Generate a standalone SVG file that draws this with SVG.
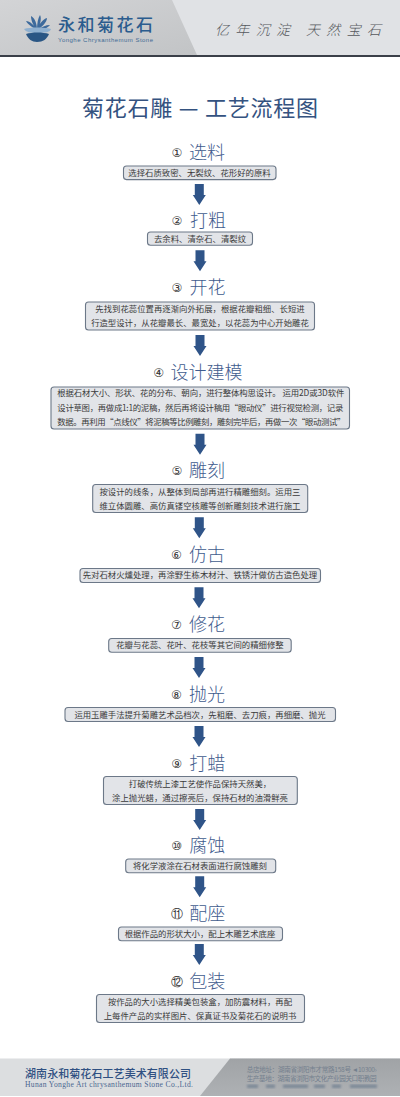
<svg xmlns="http://www.w3.org/2000/svg" width="400" height="1097" viewBox="0 0 400 1097">
<style>
text{font-family:"Noto Sans CJK SC","Noto Sans",sans-serif}
.h{font-size:18px;fill:#3f5c8e;font-weight:300}
.n{font-size:12px;fill:#333;text-anchor:middle;font-family:"DejaVu Sans",sans-serif}
.b{fill:#e2e4e8;stroke:#6c7888;stroke-width:1.1}
.t{font-size:8.4px;fill:#3a3a3a;text-anchor:middle}
.s{font-size:8.4px;fill:#3a3a3a}
.a{fill:#2f5488}
.f{font-size:6.6px;fill:#74808e}
</style>
<defs>
<path id="arr" class="a" d="M-4.5 0H4.5V11H6.5L0 21L-6.5 11H-4.5Z"/>
<linearGradient id="hl" x1="0" x2="1" y1="0" y2="1"><stop offset="0" stop-color="#d3d4d6"/><stop offset="1" stop-color="#c2c4c6"/></linearGradient>
<linearGradient id="fr" x1="0" x2="0" y1="0" y2="1"><stop offset="0" stop-color="#a0a3a6"/><stop offset="1" stop-color="#aeb1b4"/></linearGradient>
<filter id="bl"><feGaussianBlur stdDeviation="0.8"/></filter>
</defs>
<rect width="400" height="1097" fill="#fff"/>
<g id="header">
<rect width="400" height="55" fill="#e0e2e5"/>
<polygon points="0,0 172,0 197,55 0,55" fill="url(#hl)"/>
<rect y="55" width="400" height="2" fill="#3a3f48"/>
<g id="logo">
<path d="M37 30C30 26 27 23 26 21C30 21 34 25 37 30Z M37 30C32 24 31 19 31 16C35 18 37 24 37 30Z M37 30C37 23 38 18 40 15C42 19 40 25 37 30Z M37 30C39 24 43 19 47 18C47 22 42 27 37 30Z M37 30C41 27 46 25 50 25C48 28 42 30 37 30Z" fill="#3d6a9c"/>
<path d="M24 29C30 27 44 27 51 29C50 32 46 33 37 33C30 33 26 32 24 29Z" fill="#8fb0d0"/>
<path d="M26 34C32 32 43 32 49 34C47 39 43 42 37 42C32 42 28 39 26 34Z" fill="#2a5684"/>
<text x="58" y="30.5" font-size="17" font-weight="500" fill="#2b5c8e" textLength="95">永和菊花石</text>
<text x="58" y="41.5" font-size="6" fill="#3e6a94" textLength="95" style="font-family:'Liberation Sans',sans-serif">Yonghe Chrysanthemum Stone</text>
</g>
<text x="215" y="35" font-size="14" font-weight="300" fill="#55585d" textLength="166" lengthAdjust="spacing" style="font-style:italic">亿年沉淀 天然宝石</text>
</g>
<text id="title" x="200" y="116" font-size="22" fill="#34527f" text-anchor="middle" textLength="236" font-weight="400">菊花石雕 — 工艺流程图</text>
<g id="connectors">
<use href="#arr" x="199.3" y="184"/>
<use href="#arr" x="200" y="250.3"/>
<use href="#arr" x="200" y="335"/>
<use href="#arr" x="200" y="433.7"/>
<use href="#arr" x="199.3" y="517.3"/>
<use href="#arr" x="199" y="587.3"/>
<use href="#arr" x="199" y="657"/>
<use href="#arr" x="199" y="726"/>
<use href="#arr" x="199.7" y="809"/>
<use href="#arr" x="199.7" y="876.3"/>
<use href="#arr" x="199.3" y="944"/>
</g>
<g id="step1"><text class="n" x="177" y="156.5">①</text><text class="h" x="189" y="158.5">选料</text>
<rect class="b" x="123.5" y="166" width="152.5" height="13.6" rx="3"/><text class="t" x="199.5" y="175.8">选择石质致密、无裂纹、花形好的原料</text></g>
<g id="step2"><text class="n" x="177" y="224.5">②</text><text class="h" x="190" y="226.5">打粗</text>
<rect class="b" x="147.5" y="232" width="105" height="13.2" rx="3"/><text class="t" x="200" y="241.6">去余料、清杂石、清裂纹</text></g>
<g id="step3"><text class="n" x="177" y="292">③</text><text class="h" x="189.5" y="294">开花</text>
<rect class="b" x="85.5" y="302" width="229" height="28" rx="3"/><text class="t" x="200" y="311.8">先找到花蕊位置再逐渐向外拓展，根据花瓣粗细、长短进</text><text class="t" x="200" y="325.8">行造型设计，从花瓣最长、最宽处，以花蕊为中心开始雕花</text></g>
<g id="step4"><text class="n" x="158.7" y="377">④</text><text class="h" x="170.5" y="379">设计建模</text>
<rect class="b" x="51" y="387" width="298.5" height="42" rx="3"/>
<text class="s" x="57.3" y="396.4" textLength="287">根据石材大小、形状、花的分布、朝向，进行整体构思设计。 运用2D或3D软件</text>
<text class="s" x="57.3" y="410.8" textLength="286">设计草图，再做成1:1的泥稿，然后再将设计稿用“眼动仪”进行视觉检测，记录</text>
<text class="s" x="57.3" y="425.1" textLength="288">数据。再利用“点线仪”将泥稿等比例雕刻，雕刻完毕后，再做一次“眼动测试”</text></g>
<g id="step5"><text class="n" x="177" y="474.5">⑤</text><text class="h" x="189" y="476.5">雕刻</text>
<rect class="b" x="92.7" y="484.5" width="215" height="28" rx="3"/><text class="t" x="200" y="495.1">按设计的线条，从整体到局部再进行精雕细刻。运用三</text><text class="t" x="200" y="509.1">维立体圆雕、高仿真镂空核雕等创新雕刻技术进行施工</text></g>
<g id="step6"><text class="n" x="176.5" y="559">⑥</text><text class="h" x="189" y="561">仿古</text>
<rect class="b" x="80" y="568.5" width="240.5" height="14" rx="3"/><text class="t" x="200" y="578.4">先对石材火燻处理，再涂野生栋木材汁、铁锈汁做仿古造色处理</text></g>
<g id="step7"><text class="n" x="176.5" y="628.5">⑦</text><text class="h" x="189" y="630.5">修花</text>
<rect class="b" x="108.7" y="638.5" width="182.5" height="13.8" rx="3"/><text class="t" x="200" y="648.4">花瓣与花蕊、花叶、花枝等其它间的精细修整</text></g>
<g id="step8"><text class="n" x="176.5" y="698.5">⑧</text><text class="h" x="189" y="700.5">抛光</text>
<rect class="b" x="65" y="707.5" width="270.5" height="14" rx="3"/><text class="t" x="200" y="717.8">运用玉雕手法提升菊雕艺术品档次，先粗磨、去刀痕，再细磨、抛光</text></g>
<g id="step9"><text class="n" x="176.7" y="767.8">⑨</text><text class="h" x="189.3" y="769.8">打蜡</text>
<rect class="b" x="103.5" y="776.5" width="193.8" height="28" rx="3"/><text class="t" x="200" y="787.1">打破传统上漆工艺使作品保持天然美，</text><text class="t" x="200" y="801.1">涂上抛光蜡，通过擦亮后，保持石材的油滑鲜亮</text></g>
<g id="step10"><text class="n" x="176.7" y="850">⑩</text><text class="h" x="189.3" y="852">腐蚀</text>
<rect class="b" x="125.7" y="859" width="150" height="13.7" rx="3"/><text class="t" x="200" y="868.8">将化学液涂在石材表面进行腐蚀雕刻</text></g>
<g id="step11"><text class="n" x="176.7" y="917.8">⑪</text><text class="h" x="189.3" y="919.8">配座</text>
<rect class="b" x="118.5" y="927" width="164" height="13.7" rx="3"/><text class="t" x="200" y="936.8">根据作品的形状大小，配上木雕艺术底座</text></g>
<g id="step12"><text class="n" x="177" y="985.5">⑫</text><text class="h" x="189.3" y="987.5">包装</text>
<rect class="b" x="96.5" y="994.5" width="208" height="28" rx="3"/><text class="t" x="200" y="1004.8">按作品的大小选择精美包装盒，加防震材料，再配</text><text class="t" x="200" y="1018.8">上每件产品的实样图片、保真证书及菊花石的说明书</text></g>
<g id="footer">
<rect y="1058.5" width="400" height="37.5" fill="#dcdee0"/>
<polygon points="230,1058.5 400,1058.5 400,1096 200,1096" fill="url(#fr)"/>
<text x="25" y="1078" font-size="11" font-weight="500" fill="#2f5082" textLength="166">湖南永和菊花石工艺美术有限公司</text>
<text x="25" y="1087" font-size="7.6" fill="#4a6690" textLength="168" style="font-family:'Liberation Serif',serif">Hunan Yonghe Art chrysanthemum Stone Co.,Ltd.</text>
<text class="f" x="246.7" y="1072.3" textLength="130" font-size="6">总店地址：湖南省浏阳市才常路158号 ◄10300›</text>
<text class="f" x="246.7" y="1081" textLength="130">生产基地：湖南省浏阳市文化产业园关口职教园</text>
<g fill="#7e8a98" filter="url(#bl)"><rect x="247" y="1084.5" width="11" height="3.5"/><rect x="266" y="1084.5" width="9" height="3.5"/><rect x="283" y="1084.5" width="25" height="3.5"/><rect x="314" y="1084.5" width="11" height="3.5"/><rect x="332" y="1084.5" width="9" height="3.5"/><rect x="350" y="1084.5" width="27" height="3.5"/></g>
</g>
</svg>
